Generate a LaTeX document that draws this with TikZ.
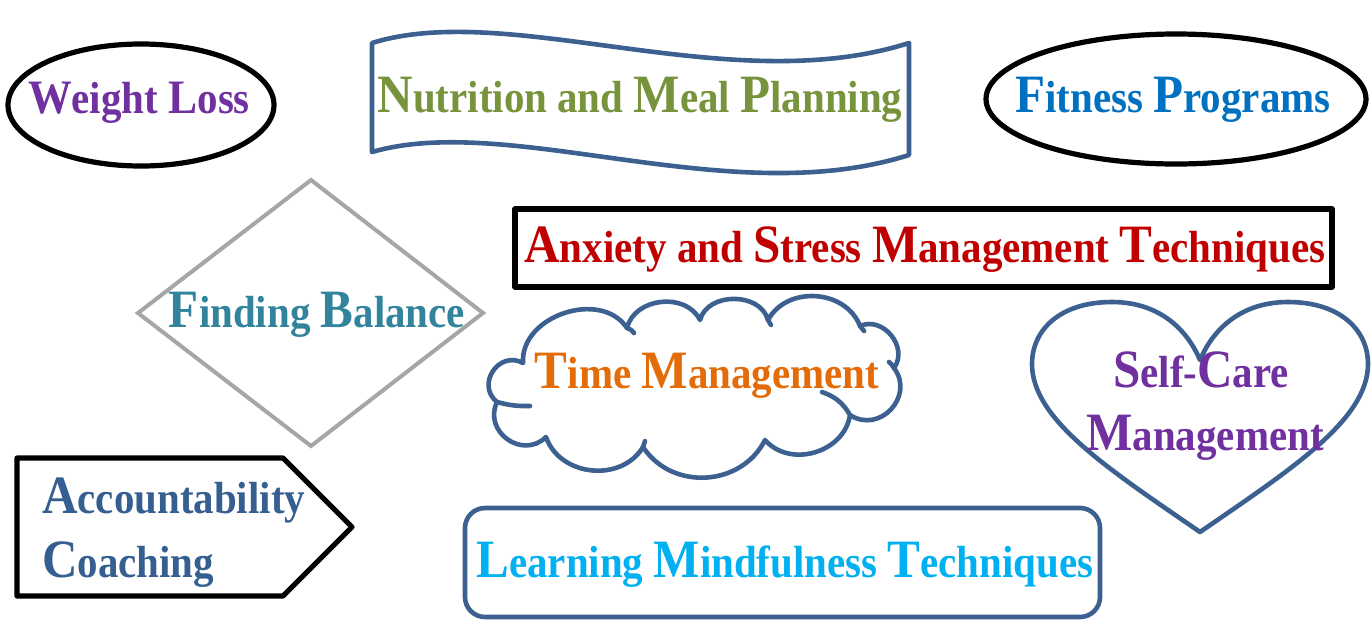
\documentclass[tikz,border=0pt]{standalone}
\usepackage{fontspec}
\usetikzlibrary{shapes.geometric}
\newfontfamily\cf[FakeStretch=0.91]{Liberation Serif}
\newcommand\Cp[1]{{\fontsize{54}{54}\selectfont #1}}
\newcommand\Cq[1]{{\fontsize{48}{48}\selectfont #1}}
\definecolor{wlpurple}{HTML}{7030A0}
\definecolor{nutgreen}{HTML}{77933C}
\definecolor{fitblue}{HTML}{0070C0}
\definecolor{balteal}{HTML}{31849B}
\definecolor{anxred}{HTML}{C00000}
\definecolor{timeorange}{HTML}{E36C09}
\definecolor{accblue}{HTML}{365F91}
\definecolor{learncyan}{HTML}{00B0F0}
\definecolor{outblue}{HTML}{3C6090}
\definecolor{diagray}{HTML}{A6A6A6}
\tikzset{
  lbl/.style={font=\cf\bfseries\fontsize{45}{45}\selectfont, inner sep=0pt, anchor=base},
  blueline/.style={draw=outblue, line width=4.6pt, line join=round},
  blackline/.style={draw=black, line width=5.2pt, line join=round},
}
\begin{document}
\begin{tikzpicture}[x=1pt,y=-1pt]
\useasboundingbox (0,0) rectangle (1372,622);
% Weight Loss
\node[ellipse, blackline, minimum width=266pt, minimum height=122pt, inner sep=0pt] (wlshape) at (141,105) {};
\node[lbl, text=wlpurple] (wl) at (139,113) {\Cq{W}eight \Cq{L}oss};
% Nutrition banner
\draw[blueline] (372,43) coordinate (nb1) .. controls (510,0) and (730,100) .. (909,43) coordinate (nb2)
  -- (909,155) .. controls (730,212) and (510,112) .. (372,152) -- cycle;
\node[lbl, text=nutgreen] (nut) at (640,112) {\Cp{N}utrition and \Cp{M}eal \Cp{P}lanning};
% Fitness
\node[ellipse, blackline, minimum width=380pt, minimum height=130pt, inner sep=0pt] (fpshape) at (1176,99) {};
\node[lbl, text=fitblue] (fp) at (1173,112) {\Cp{F}itness \Cp{P}rograms};
% Finding Balance diamond
\draw[draw=diagray, line width=4pt] (138,313) coordinate (fb1) -- (311,180) -- (483,313) -- (311,446) -- cycle;
\node[lbl, text=balteal] (fb) at (317,327) {\Cp{F}inding \Cp{B}alance};
% Anxiety
\draw[blackline] (515,209) coordinate (ax1) rectangle (1332,287);
\node[lbl, text=anxred] (ax) at (925,262) {\Cp{A}nxiety and \Cp{S}tress \Cp{M}anagement \Cp{T}echniques};
% Cloud
\draw[blueline, line cap=round, fill=white]
  (523,363) coordinate (c1)
  to[bend left=75, looseness=1.1] (627,328) coordinate (c2)
  to[bend left=70, looseness=1.1] (700,320) coordinate (c3)
  to[bend left=75, looseness=1.1] (768,320) coordinate (c4)
  to[bend left=65, looseness=1.1] (860,326) coordinate (c5)
  to[bend left=75, looseness=1.2] (894,368) coordinate (c6)
  to[bend left=80, looseness=1.4] (850,415) coordinate (c7)
  to[bend left=65, looseness=1.1] (765,440) coordinate (c8)
  to[bend left=60, looseness=1.1] (643,447) coordinate (c9)
  to[bend left=65, looseness=1.1] (546,437) coordinate (c10)
  to[bend left=80, looseness=1.4] (497,402) coordinate (c11)
  to[bend left=85, looseness=1.5] cycle;
\draw[blueline, line cap=round] (c2) to[bend left=20] (634,333);
\draw[blueline, line cap=round] (c5) to[bend left=10] (864,331);
\draw[blueline, line cap=round] (c6) to[bend right=10] (889,362);
\draw[blueline, line cap=round] (c7) to[bend right=20] (822,392);
\draw[blueline, line cap=round] (c9) to[bend right=10] (645,441);
\draw[blueline, line cap=round] (c11) to[bend right=8] (530,406);
\draw[blueline, line cap=round] (c4) -- (771,325);
\node[lbl, text=timeorange] (tm) at (707,388) {\Cp{T}ime \Cp{M}anagement};
% Heart
\draw[blueline]
  (1200,360) coordinate (h1)
  .. controls (1185,325) and (1155,302) .. (1112,302)
  .. controls (1060,302) and (1032,330) .. (1032,364)
  .. controls (1032,420) and (1110,470) .. (1200,532) coordinate (h2)
  .. controls (1290,470) and (1368,420) .. (1368,364)
  .. controls (1368,330) and (1340,302) .. (1288,302)
  .. controls (1245,302) and (1215,325) .. (h1) -- cycle;
\node[lbl, text=wlpurple] (sc1) at (1201,387) {\Cp{S}elf-\Cp{C}are};
\node[lbl, text=wlpurple] (sc2) at (1205,450) {\Cp{M}anagement};
% Accountability arrow
\draw[blackline] (17,458) coordinate (ac0) -- (283,458) -- (352,527) -- (283,596) -- (17,596) -- cycle;
\node[lbl, anchor=base west, text=accblue] (ac1) at (42,513) {\Cp{A}ccountability};
\node[lbl, anchor=base west, text=accblue] (ac2) at (42,577) {\Cp{C}oaching};
% Learning
\draw[blueline, rounded corners=20pt] (465,508) coordinate (lm0) rectangle (1100,617);
\node[lbl, text=learncyan] (lm) at (785,577) {\Cp{L}earning \Cp{M}indfulness \Cp{T}echniques};
\end{tikzpicture}
\end{document}
